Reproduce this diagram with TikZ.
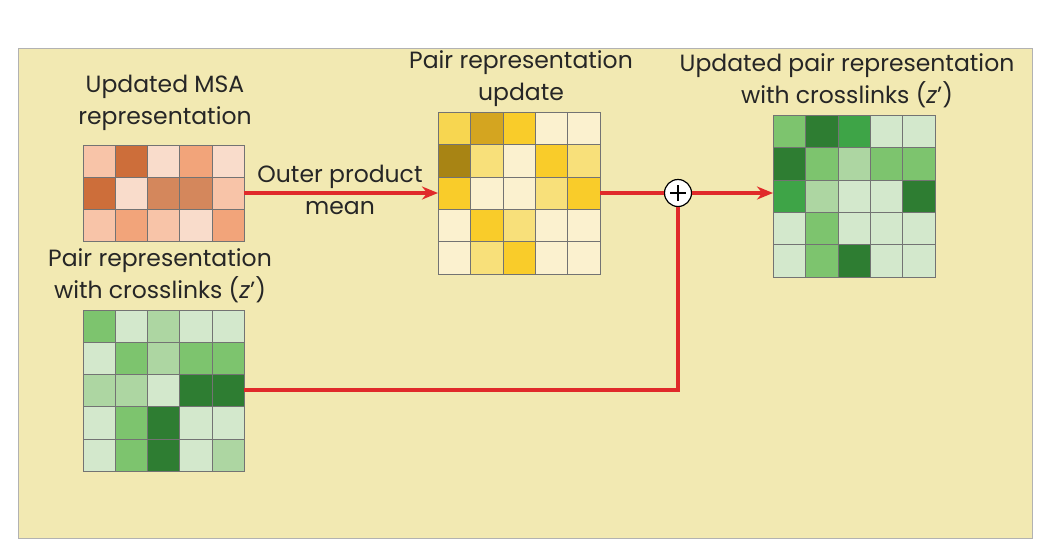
\documentclass[tikz,border=0pt]{standalone}
\usepackage{fontspec}
\setmainfont{Poppins}
\usetikzlibrary{arrows.meta}
\definecolor{bgy}{HTML}{F2E9B2}
\definecolor{arr}{HTML}{E02A2A}
\definecolor{M1}{HTML}{F8C4A8}\definecolor{M2}{HTML}{CD6E3A}\definecolor{M3}{HTML}{F9DCCB}\definecolor{M4}{HTML}{F2A47A}\definecolor{M5}{HTML}{D4875C}
\definecolor{G1}{HTML}{D3E8CC}\definecolor{G2}{HTML}{ADD6A2}\definecolor{G3}{HTML}{7DC46E}\definecolor{G4}{HTML}{2E7D32}\definecolor{G5}{HTML}{3EA447}
\definecolor{Y0}{HTML}{FBF1CF}\definecolor{Y1}{HTML}{F8E07A}\definecolor{Y2}{HTML}{F9CC2A}\definecolor{Y3}{HTML}{D4A520}\definecolor{Y4}{HTML}{A88414}\definecolor{Y5}{HTML}{F7D650}
\newcommand{\mygrid}[4]{% x0,y0,cell,rows list
  \foreach \row [count=\r from 0] in {#4} {
    \foreach \c [count=\k from 0] in \row {
      \fill[\c] ({#1+\k*#3},{#2+\r*#3}) rectangle ++(#3,#3);
      \draw[cellline] ({#1+\k*#3},{#2+\r*#3}) rectangle ++(#3,#3);
    }}}
\begin{document}
\begin{tikzpicture}[x=1pt,y=-1pt,
  lbl/.style={align=center,font=\fontsize{23.5}{32}\selectfont,text=black!85},
  cellline/.style={draw=black!55,line width=0.5pt},
  flow/.style={draw=arr,line width=3.2pt},
  tip/.style={-{Stealth[length=16pt,width=13pt]}}]
\useasboundingbox (0,0) rectangle (1037,539);
\fill[white] (0,0) rectangle (1037,539);
\draw[fill=bgy,draw=black!30] (18,48) rectangle (1032,538);
\mygrid{83}{145}{32.2}{{M1,M2,M3,M4,M3},{M2,M3,M5,M5,M1},{M1,M4,M1,M3,M4}}
\mygrid{83}{310}{32.2}{{G3,G1,G2,G1,G1},{G1,G3,G2,G3,G3},{G2,G2,G1,G4,G4},{G1,G3,G4,G1,G1},{G1,G3,G4,G1,G2}}
\mygrid{438}{112}{32.4}{{Y5,Y3,Y2,Y0,Y0},{Y4,Y1,Y0,Y2,Y1},{Y2,Y0,Y0,Y1,Y2},{Y0,Y2,Y1,Y0,Y0},{Y0,Y1,Y2,Y0,Y0}}
\mygrid{773}{115}{32.4}{{G3,G4,G5,G1,G1},{G4,G3,G2,G3,G3},{G5,G2,G1,G1,G4},{G1,G3,G1,G1,G1},{G1,G3,G4,G1,G1}}
\coordinate (msa) at (244,193);
\coordinate (upd) at (438,193);
\coordinate (updr) at (600,193);
\coordinate (zl) at (244,390);
\coordinate (corner) at (678,390);
\coordinate (out) at (773,193);
\node[circle,draw=black,fill=white,line width=1.2pt,minimum size=27pt,inner sep=0pt] (plus) at (678,193) {};
\draw[line width=1.3pt] ([xshift=-8pt]plus.center) -- ([xshift=8pt]plus.center) ([yshift=-8pt]plus.center) -- ([yshift=8pt]plus.center);
\draw[flow,tip] (msa) -- (upd);
\draw[flow] (updr) -- (plus);
\draw[flow] (zl) -- (corner) -- (plus);
\draw[flow,tip] (plus) -- (out);
\node[lbl] (t1) at (165,103) {Updated MSA\\representation};
\node[lbl] (t2) at (340,190) {Outer product\\mean};
\node[lbl] (t3) at (160,276) {Pair representation\\with crosslinks (\textit{z}\symbol{39})};
\node[lbl] (t4) at (521,79) {Pair representation\\update};
\node[lbl] (t5) at (847,81) {Updated pair representation\\with crosslinks (\textit{z}\symbol{39})};
\end{tikzpicture}
\end{document}
